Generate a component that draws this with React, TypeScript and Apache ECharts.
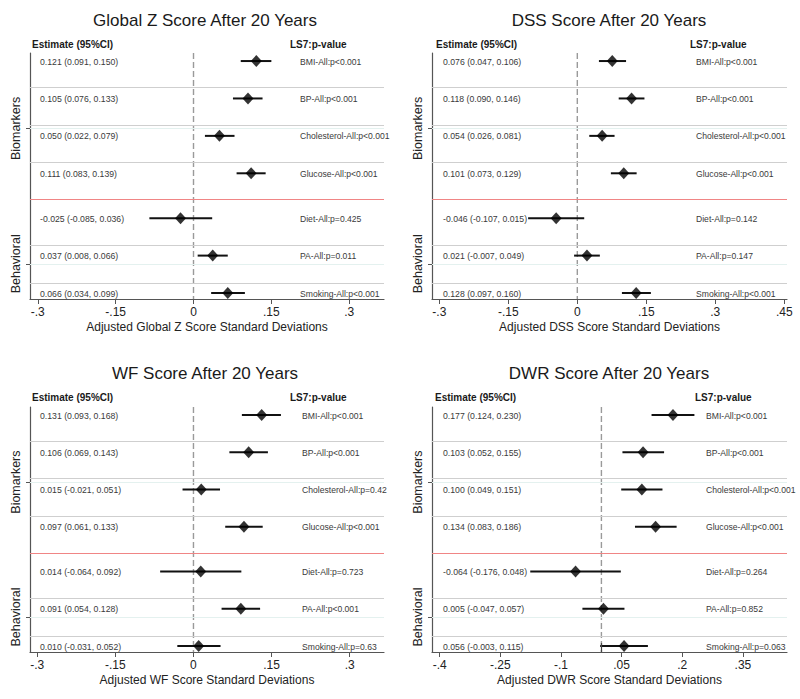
import React, { useEffect, useRef } from "react";
import * as echarts from "echarts";

// ---------- data ----------
const categories = ["BMI", "BP", "Cholesterol", "Glucose", "Diet", "PA", "Smoking"];
const rowPos = [1, 2, 3, 4, 5.2, 6.2, 7.2];
const separators = [1.71, 2.71, 3.71, 5.93, 6.93];
const groupSplit = 4.7;
const groupTicks = [2.8, 6.42];
const groupNames = ["Biomarkers", "Behavioral"];

const titles = [
  "Global Z Score After 20 Years",
  "DSS Score After 20 Years",
  "WF Score After 20 Years",
  "DWR Score After 20 Years",
];
const axisNames = [
  "Adjusted Global Z Score Standard Deviations",
  "Adjusted DSS Score Standard Deviations",
  "Adjusted WF Score Standard Deviations",
  "Adjusted DWR Score Standard Deviations",
];

const globalEst = [0.121, 0.105, 0.05, 0.111, -0.025, 0.037, 0.066];
const globalLo = [0.091, 0.076, 0.022, 0.083, -0.085, 0.008, 0.034];
const globalHi = [0.15, 0.133, 0.079, 0.139, 0.036, 0.066, 0.099];
const globalP = ["p<0.001", "p<0.001", "p<0.001", "p<0.001", "p=0.425", "p=0.011", "p<0.001"];

const dssEst = [0.076, 0.118, 0.054, 0.101, -0.046, 0.021, 0.128];
const dssLo = [0.047, 0.09, 0.026, 0.073, -0.107, -0.007, 0.097];
const dssHi = [0.106, 0.146, 0.081, 0.129, 0.015, 0.049, 0.16];
const dssP = ["p<0.001", "p<0.001", "p<0.001", "p<0.001", "p=0.142", "p=0.147", "p<0.001"];

const wfEst = [0.131, 0.106, 0.015, 0.097, 0.014, 0.091, 0.01];
const wfLo = [0.093, 0.069, -0.021, 0.061, -0.064, 0.054, -0.031];
const wfHi = [0.168, 0.143, 0.051, 0.133, 0.092, 0.128, 0.052];
const wfP = ["p<0.001", "p<0.001", "p=0.42", "p<0.001", "p=0.723", "p<0.001", "p=0.63"];

const dwrEst = [0.177, 0.103, 0.1, 0.134, -0.064, 0.005, 0.056];
const dwrLo = [0.124, 0.052, 0.049, 0.083, -0.176, -0.047, -0.003];
const dwrHi = [0.23, 0.155, 0.151, 0.186, 0.048, 0.057, 0.115];
const dwrP = ["p<0.001", "p<0.001", "p<0.001", "p<0.001", "p=0.264", "p=0.852", "p=0.063"];

const xTicksA = [-0.3, -0.15, 0, 0.15, 0.3];
const xTicksB = [-0.3, -0.15, 0, 0.15, 0.3, 0.45];
const xTicksD = [-0.4, -0.25, -0.1, 0.05, 0.2, 0.35];

const xRanges = [
  [-0.315, 0.367],
  [-0.316, 0.456],
  [-0.314, 0.366],
  [-0.419, 0.459],
];
const yRange = [0.785, 7.36];

// ---------- layout (pixels) ----------
const LAYOUT = [
  { left: 30, top: 53, width: 354, height: 246, titleX: 205, titleY: 20, headY: 44, estHeadX: 32, pHeadX: 290, estX: 10, pX: 270 },
  { left: 432, top: 53, width: 355, height: 246, titleX: 609, titleY: 20, headY: 44, estHeadX: 436, pHeadX: 690, estX: 11, pX: 264 },
  { left: 30, top: 407, width: 354, height: 245, titleX: 205, titleY: 373, headY: 397, estHeadX: 32, pHeadX: 290, estX: 10, pX: 272 },
  { left: 432, top: 407, width: 355, height: 245, titleX: 609, titleY: 373, headY: 397, estHeadX: 435, pHeadX: 695, estX: 11, pX: 274 },
];

const FONT = '"Liberation Sans", Arial, Helvetica, sans-serif';

const panels = [
  { est: globalEst, lo: globalLo, hi: globalHi, p: globalP, ticks: xTicksA },
  { est: dssEst, lo: dssLo, hi: dssHi, p: dssP, ticks: xTicksB },
  { est: wfEst, lo: wfLo, hi: wfHi, p: wfP, ticks: xTicksA },
  { est: dwrEst, lo: dwrLo, hi: dwrHi, p: dwrP, ticks: xTicksD },
];

function fmtTick(v: number): string {
  if (Math.abs(v) < 1e-9) return "0";
  return String(Number(v.toFixed(3))).replace("0.", ".");
}

function buildOption() {
  const grid: any[] = [];
  const xAxis: any[] = [];
  const yAxis: any[] = [];
  const series: any[] = [];
  const graphic: any[] = [];

  panels.forEach((pn, k) => {
    const L = LAYOUT[k];
    grid.push({ left: L.left, top: L.top, width: L.width, height: L.height, containLabel: false });
    xAxis.push({
      type: "value",
      gridIndex: k,
      min: xRanges[k][0],
      max: xRanges[k][1],
      name: axisNames[k],
      nameLocation: "middle",
      nameGap: 22,
      nameTextStyle: { fontFamily: FONT, fontSize: 12, color: "#222" },
      axisLine: { show: true, onZero: false, lineStyle: { color: "#555", width: 1.2 } },
      axisTick: { show: true, length: 5, customValues: pn.ticks, lineStyle: { color: "#555" } },
      axisLabel: {
        customValues: pn.ticks,
        formatter: (v: number) => fmtTick(v),
        fontFamily: FONT,
        fontSize: 12,
        color: "#222",
        margin: 7,
      },
      splitLine: { show: false },
    });
    yAxis.push({
      type: "value",
      gridIndex: k,
      inverse: true,
      min: yRange[0],
      max: yRange[1],
      axisLine: { show: true, onZero: false, lineStyle: { color: "#555", width: 1.2 } },
      axisTick: { show: true, length: 4, customValues: groupTicks, lineStyle: { color: "#555" } },
      axisLabel: {
        customValues: groupTicks,
        formatter: (v: number) => (v < groupSplit ? groupNames[0] : groupNames[1]),
        rotate: 90,
        fontFamily: FONT,
        fontSize: 12.5,
        color: "#222",
        margin: 8,
      },
      splitLine: { show: false },
    });

    // reference lines
    const extra: any[] = [];
    if (k === 3) {
      // solid segment of the zero line at the bottom of the DWR panel
      extra.push([
        { coord: [0, 7.12], lineStyle: { color: "#444", width: 1.2, type: "solid" } },
        { coord: [0, yRange[1]] },
      ]);
    }
    series.push({
      type: "line",
      xAxisIndex: k,
      yAxisIndex: k,
      data: [],
      silent: true,
      markLine: {
        silent: true,
        symbol: "none",
        label: { show: false },
        animation: false,
        data: [
          ...separators.map((s) => ({ yAxis: s, lineStyle: { color: "#cfcfcf", width: 1, type: "solid" } })),
          ...groupTicks.map((s) => ({ yAxis: s, lineStyle: { color: "#e4f1ef", width: 1, type: "solid" } })),
          { yAxis: groupSplit, lineStyle: { color: "#f08585", width: 1.2, type: "solid" } },
          ...extra,
        ],
      },
      z: 1,
    });

    // CI lines + text (+ dashed zero line drawn once)
    series.push({
      type: "custom",
      xAxisIndex: k,
      yAxisIndex: k,
      encode: { x: [0, 1], y: 2 },
      data: categories.map((_, i) => [pn.lo[i], pn.hi[i], rowPos[i], i]),
      renderItem: (params: any, api: any) => {
        const i = api.value(3);
        const a = api.coord([api.value(0), api.value(2)]);
        const b = api.coord([api.value(1), api.value(2)]);
        const cs = params.coordSys;
        const estText = `${pn.est[i].toFixed(3)} (${pn.lo[i].toFixed(3)}, ${pn.hi[i].toFixed(3)})`;
        const pText = `${categories[i]}-All:${pn.p[i]}`;
        const children: any[] = [];
        if (i === 0) {
          const z0 = api.coord([0, yRange[0]]);
          const z1 = api.coord([0, yRange[1]]);
          children.push({
            type: "line",
            shape: { x1: z0[0], y1: z0[1], x2: z1[0], y2: z1[1] },
            style: { stroke: "#9a9a9a", lineWidth: 1.4, lineDash: [6, 3] },
            z2: -1,
          });
        }
        children.push(
          {
            type: "line",
            shape: { x1: a[0], y1: a[1], x2: b[0], y2: b[1] },
            style: { stroke: "#111", lineWidth: 2 },
          },
          {
            type: "text",
            x: cs.x + L.estX,
            y: a[1] + 0.5,
            style: {
              text: estText,
              fill: "#3a3a3a",
              font: `8.7px ${FONT}`,
              align: "left",
              verticalAlign: "middle",
              textAlign: "left",
              textVerticalAlign: "middle",
            },
          },
          {
            type: "text",
            x: cs.x + L.pX,
            y: a[1] + 0.5,
            style: {
              text: pText,
              fill: "#3a3a3a",
              font: `8.6px ${FONT}`,
              align: "left",
              verticalAlign: "middle",
              textAlign: "left",
              textVerticalAlign: "middle",
            },
          }
        );
        return { type: "group", children };
      },
      z: 3,
    });

    // diamonds
    series.push({
      type: "scatter",
      xAxisIndex: k,
      yAxisIndex: k,
      symbol: "diamond",
      symbolSize: [11, 12],
      itemStyle: { color: "#000" },
      data: categories.map((_, i) => [pn.est[i], rowPos[i]]),
      z: 4,
    });

    graphic.push({
      type: "text",
      x: L.titleX,
      y: L.titleY,
      style: {
        text: titles[k],
        fill: "#1a1a1a",
        font: `17px ${FONT}`,
        align: "center",
        verticalAlign: "middle",
        textAlign: "center",
        textVerticalAlign: "middle",
      },
    });
    graphic.push({
      type: "text",
      x: L.estHeadX,
      y: L.headY,
      style: {
        text: "Estimate (95%CI)",
        fill: "#1a1a1a",
        font: `bold 10px ${FONT}`,
        align: "left",
        verticalAlign: "middle",
        textAlign: "left",
        textVerticalAlign: "middle",
      },
    });
    graphic.push({
      type: "text",
      x: L.pHeadX,
      y: L.headY,
      style: {
        text: "LS7:p-value",
        fill: "#1a1a1a",
        font: `bold 10px ${FONT}`,
        align: "left",
        verticalAlign: "middle",
        textAlign: "left",
        textVerticalAlign: "middle",
      },
    });
  });

  return {
    animation: false,
    backgroundColor: "#fff",
    textStyle: { fontFamily: FONT },
    grid,
    xAxis,
    yAxis,
    series,
    graphic,
  };
}

export default function App() {
  const ref = useRef<HTMLDivElement>(null);
  useEffect(() => {
    if (!ref.current) return;
    const chart = echarts.init(ref.current, undefined, { renderer: "svg" });
    chart.setOption(buildOption() as any);
    return () => chart.dispose();
  }, []);
  return (
    <div
      ref={ref}
      style={{ position: "absolute", left: 0, top: 0, width: 800, height: 699, background: "#fff" }}
    />
  );
}
